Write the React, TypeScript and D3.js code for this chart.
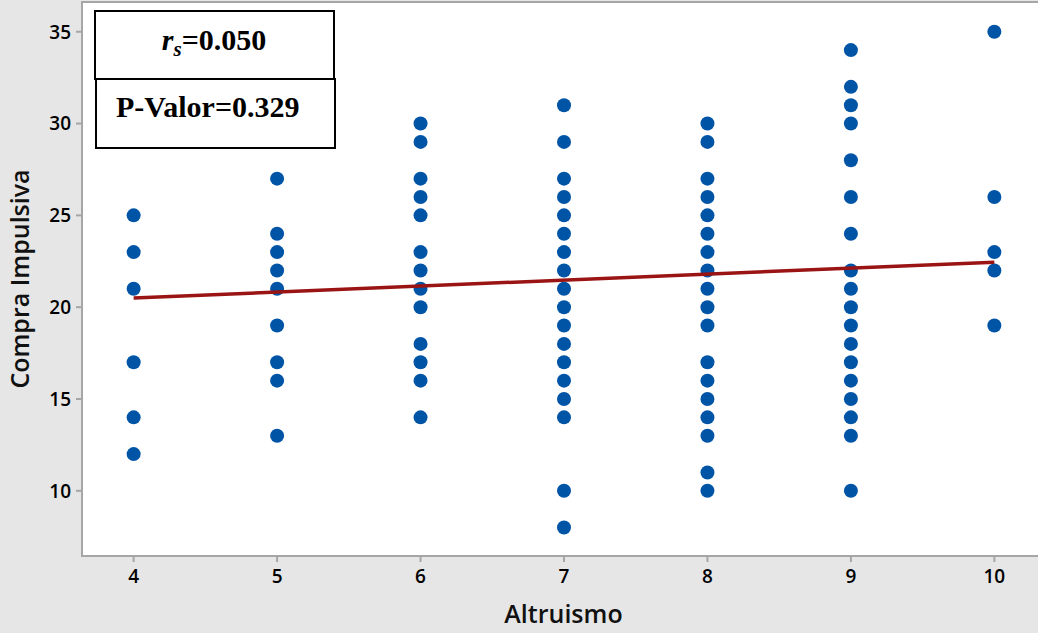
import React from "react";
import * as d3 from "d3";

// Altruismo score per group, and the Compra Impulsiva scores observed at each
const altruismo = [4, 5, 6, 7, 8, 9, 10];
const compra4 = [25, 23, 21, 17, 14, 12];
const compra5 = [27, 24, 23, 22, 21, 19, 17, 16, 13];
const compra6 = [30, 29, 27, 26, 25, 23, 22, 21, 20, 18, 17, 16, 14];
const compra7 = [31, 29, 27, 26, 25, 24, 23, 22, 21, 20, 19, 18, 17, 16, 15, 14, 10, 8];
const compra8 = [30, 29, 27, 26, 25, 24, 23, 22, 21, 20, 19, 17, 16, 15, 14, 13, 11, 10];
const compra9 = [34, 32, 31, 30, 28, 26, 24, 22, 21, 20, 19, 18, 17, 16, 15, 14, 13, 10];
const compra10 = [35, 26, 23, 22, 19];
const groups = [compra4, compra5, compra6, compra7, compra8, compra9, compra10];

// Fitted line: Compra = intercept + slope * Altruismo
const fitIntercept = 19.2;
const fitSlope = 0.325;

const xTicks = [4, 5, 6, 7, 8, 9, 10];
const yTicks = [10, 15, 20, 25, 30, 35];
const rsText = "=0.050";
const pText = "P-Valor=0.329";

const W = 1038;
const H = 633;
const frame = { left: 82, right: 1046, top: 2, bottom: 556 };

export default function App() {
  const x = d3.scaleLinear().domain([3.64, 10.36]).range([frame.left, frame.right]);
  const y = d3.scaleLinear().domain([6.45, 36.62]).range([frame.bottom, frame.top]);

  const points = groups.flatMap((vals, i) => vals.map((v) => ({ a: altruismo[i], c: v })));
  const xMin = d3.min(altruismo) as number;
  const xMax = d3.max(altruismo) as number;
  const fitLine = d3
    .line<number>()
    .x((d) => x(d))
    .y((d) => y(fitIntercept + fitSlope * d))([xMin, xMax]);

  const axisFont = "'Open Sans', 'Noto Sans', sans-serif";
  const axisGray = "#a6a6a6";
  const serif = "'Liberation Serif', 'Times New Roman', serif";

  return (
    <svg
      width={W}
      height={H}
      style={{ position: "absolute", left: 0, top: 0, display: "block" }}
    >
      <rect x={0} y={0} width={W} height={H} fill="#e6e6e6" />
      <rect
        x={frame.left}
        y={frame.top}
        width={frame.right - frame.left}
        height={frame.bottom - frame.top}
        fill="#ffffff"
        stroke={axisGray}
        strokeWidth={2}
      />

      {/* y axis ticks */}
      {yTicks.map((t) => (
        <g key={"y" + t}>
          <line x1={frame.left - 6} x2={frame.left} y1={y(t)} y2={y(t)} stroke={axisGray} strokeWidth={2} />
          <text
            x={frame.left - 11}
            y={y(t)}
            dy="0.36em"
            textAnchor="end"
            fontFamily={axisFont}
            fontWeight={600}
            fontSize={19}
            fill="#000"
          >
            {t}
          </text>
        </g>
      ))}

      {/* x axis ticks */}
      {xTicks.map((t) => (
        <g key={"x" + t}>
          <line x1={x(t)} x2={x(t)} y1={frame.bottom} y2={frame.bottom + 6} stroke={axisGray} strokeWidth={2} />
          <text
            x={x(t)}
            y={frame.bottom + 27}
            textAnchor="middle"
            fontFamily={axisFont}
            fontWeight={600}
            fontSize={19}
            fill="#000"
          >
            {t}
          </text>
        </g>
      ))}

      <text
        x={(frame.left + 1045) / 2}
        y={623}
        textAnchor="middle"
        fontFamily={axisFont}
        fontWeight={600}
        fontSize={25}
        fill="#111"
      >
        Altruismo
      </text>
      <text
        transform={`translate(29, ${(frame.top + frame.bottom) / 2}) rotate(-90)`}
        textAnchor="middle"
        fontFamily={axisFont}
        fontWeight={600}
        fontSize={25}
        fill="#111"
      >
        Compra Impulsiva
      </text>

      {/* observations */}
      {points.map((p, i) => (
        <circle key={i} cx={x(p.a)} cy={y(p.c)} r={7} fill="#0054a6" />
      ))}

      {/* regression line */}
      <path d={fitLine ?? ""} fill="none" stroke="#9b1414" strokeWidth={3.5} />

      {/* statistics box */}
      <rect x={95} y={11} width={239} height={68} fill="#ffffff" stroke="#000" strokeWidth={2} />
      <rect x={96} y={79} width={239} height={69} fill="#ffffff" stroke="#000" strokeWidth={2} />
      <text
        x={214}
        y={50}
        textAnchor="middle"
        fontFamily={serif}
        fontWeight={700}
        fontSize={30}
        fill="#000"
      >
        <tspan fontStyle="italic">r</tspan>
        <tspan fontStyle="italic" fontSize={21} dy={6}>
          s
        </tspan>
        <tspan dy={-6}>{rsText}</tspan>
      </text>
      <text x={116} y={117} fontFamily={serif} fontWeight={700} fontSize={30} fill="#000">
        {pText}
      </text>
    </svg>
  );
}
